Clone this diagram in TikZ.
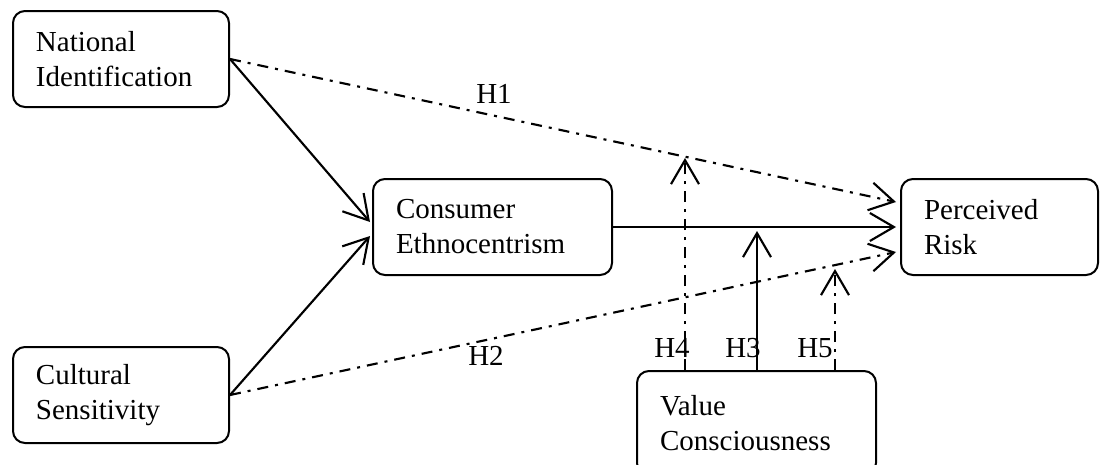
\documentclass[tikz,border=0pt]{standalone}
\usepackage{fontspec}
\setmainfont{Liberation Serif}
\usetikzlibrary{arrows.meta,calc}
\begin{document}
\begin{tikzpicture}[x=0.75pt,y=-0.75pt,
  font=\fontsize{21.75}{26.25}\selectfont,
  box/.style={draw,line width=1.5pt,rounded corners=9pt,align=left,
    inner xsep=17.25pt,inner ysep=0pt,minimum height=72pt},
  link/.style={line width=1.6pt,-{Straight Barb[length=18pt,width=21pt,line width=1.6pt]}},
  dashdot/.style={link,dash pattern=on 8.25pt off 5.25pt on 2.25pt off 5.25pt},
  hlab/.style={inner sep=0pt}]
\useasboundingbox (0,0) rectangle (1110,464);
\clip (0,0) rectangle (1110,464);
\node[box,text width=127.5pt] (NI) at (121,59) {National\\Identification};
\node[box,text width=127.5pt] (CS) at (121,395) {Cultural\\Sensitivity};
\node[box,text width=144.75pt] (CE) at (492.5,227) {Consumer\\Ethnocentrism};
\node[box,text width=113.25pt] (PR) at (999.5,227) {Perceived\\Risk};
\node[box,text width=144.75pt,minimum height=78pt] (VC) at (756.5,423) {Value\\Consciousness};
\coordinate (h4tip) at (685,158);
\coordinate (h3tip) at (757,231);
\coordinate (h5tip) at (835,269);
\draw[link] (NI.east) -- ($(CE.west)+(-2,-5)$);
\draw[link] (CS.east) -- ($(CE.west)+(-2,9)$);
\draw[dashdot] (NI.east) -- ($(PR.west)+(-4,-25)$);
\draw[dashdot] (CS.east) -- ($(PR.west)+(-4,25)$);
\draw[link] (CE.east) -- ($(PR.west)+(-4,0)$);
\draw[dashdot] (VC.north -| h4tip) -- (h4tip);
\draw[link] (VC.north -| h3tip) -- (h3tip);
\draw[dashdot] (VC.north -| h5tip) -- (h5tip);
\node[hlab] (H1) at (494,94) {H1};
\node[hlab] (H2) at (486,356) {H2};
\node[hlab] (H4) at (672,348) {H4};
\node[hlab] (H3) at (743,348) {H3};
\node[hlab] (H5) at (815,348) {H5};
\end{tikzpicture}
\end{document}
